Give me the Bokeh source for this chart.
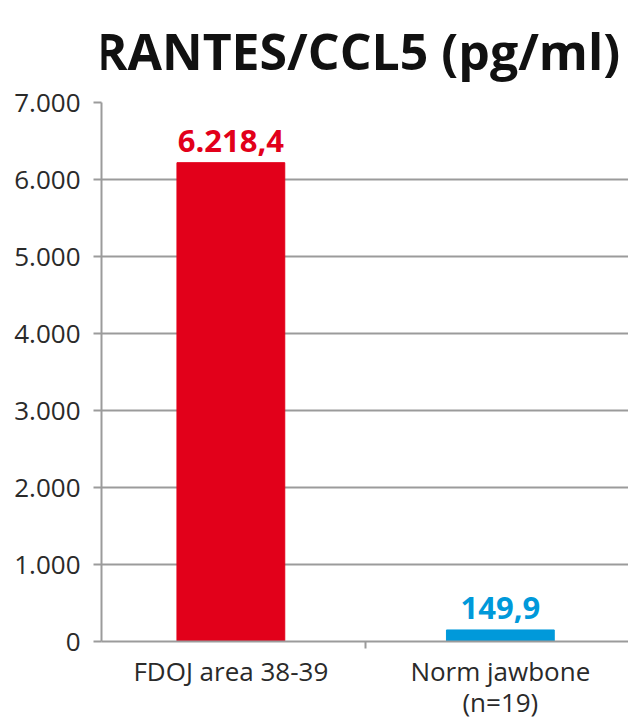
from bokeh.plotting import figure
from bokeh.layouts import column
from bokeh.models import Range1d, FixedTicker, ColumnDataSource, LabelSet
from bokeh.core.properties import value
from bokeh.embed import file_html
from bokeh.resources import INLINE

# ---- data ----
categories = ["FDOJ area 38-39", "Norm jawbone\n(n=19)"]
values = [6218.4, 149.9]
bar_colors = ["#E2001A", "#0099DA"]
y_ticks = [0, 1000, 2000, 3000, 4000, 5000, 6000, 7000]
title_text = "RANTES/CCL5 (pg/ml)"


def de_fmt(v, decimals=1):
    s = f"{v:,.{decimals}f}"
    return s.replace(",", "X").replace(".", ",").replace("X", ".")


value_labels = [de_fmt(v) for v in values]
y_tick_labels = {t: (de_fmt(t, 0)) for t in y_ticks}

xs = list(range(len(categories)))

FONT = "Open Sans"
GRAY = "#9b9b9b"
TXT = "#2a2a2a"

W = 628
TITLE_H = 87
MAIN_H = 723 - TITLE_H

# ---- title strip (pixel coordinate space) ----
t = figure(width=W, height=TITLE_H, output_backend="svg", toolbar_location=None,
           x_range=Range1d(0, W), y_range=Range1d(0, TITLE_H),
           x_axis_location=None, y_axis_location=None,
           min_border=0)
t.outline_line_color = None
t.grid.visible = False
t.background_fill_color = "white"
t.border_fill_color = "white"
t.text(x=[W - 10], y=[TITLE_H - 50], text=[title_text], text_align="right",
       text_baseline="alphabetic", text_font=value(FONT), text_font_style="bold",
       text_font_size="50px", text_color="#111111")

# ---- main chart ----
X0, X1 = -0.48, -0.48 + 527 / 269.5
Y0, Y1 = 0, 7000

p = figure(width=W, height=MAIN_H, output_backend="svg", toolbar_location=None,
           x_range=Range1d(X0, X1), y_range=Range1d(Y0, Y1),
           min_border_left=101, min_border_right=0, min_border_top=102 - TITLE_H,
           min_border_bottom=81)
p.outline_line_color = None
p.background_fill_color = "white"
p.border_fill_color = "white"

src = ColumnDataSource(dict(x=xs, top=values, color=bar_colors, label=value_labels))
p.vbar(x="x", top="top", width=0.4, color="color", source=src)

labels = LabelSet(x="x", y="top", text="label", source=src, text_align="center",
                  text_baseline="alphabetic", y_offset=11, text_color="color",
                  text_font=value(FONT), text_font_style="bold", text_font_size="31px")
p.add_layout(labels)

# y axis
p.yaxis.ticker = FixedTicker(ticks=y_ticks)
p.yaxis.major_label_overrides = y_tick_labels
p.yaxis.axis_line_color = GRAY
p.yaxis.axis_line_width = 2
p.yaxis.major_tick_line_color = GRAY
p.yaxis.major_tick_line_width = 2
p.yaxis.major_tick_out = 8
p.yaxis.major_tick_in = 0
p.yaxis.minor_tick_line_color = None
p.yaxis.major_label_standoff = 13
p.yaxis.major_label_text_font = FONT
p.yaxis.major_label_text_font_size = "26px"
p.yaxis.major_label_text_color = TXT

# x axis
p.xaxis.ticker = FixedTicker(ticks=xs, minor_ticks=[0.5])
p.xaxis.major_label_overrides = {i: c for i, c in zip(xs, categories)}
p.xaxis.axis_line_color = GRAY
p.xaxis.axis_line_width = 2
p.xaxis.major_tick_line_color = None
p.xaxis.major_tick_out = 0
p.xaxis.major_tick_in = 0
p.xaxis.minor_tick_line_color = GRAY
p.xaxis.minor_tick_line_width = 2
p.xaxis.minor_tick_out = 7
p.xaxis.minor_tick_in = 0
p.xaxis.major_label_standoff = 4
p.xaxis.major_label_text_font = FONT
p.xaxis.major_label_text_font_size = "26px"
p.xaxis.major_label_text_line_height = 0.88
p.xaxis.major_label_text_color = TXT

# grid
p.xgrid.grid_line_color = None
p.ygrid.ticker = FixedTicker(ticks=y_ticks)
p.ygrid.grid_line_color = GRAY
p.ygrid.grid_line_width = 2

layout = column(t, p, spacing=0)
open("out.html", "w").write(file_html(layout, INLINE))
